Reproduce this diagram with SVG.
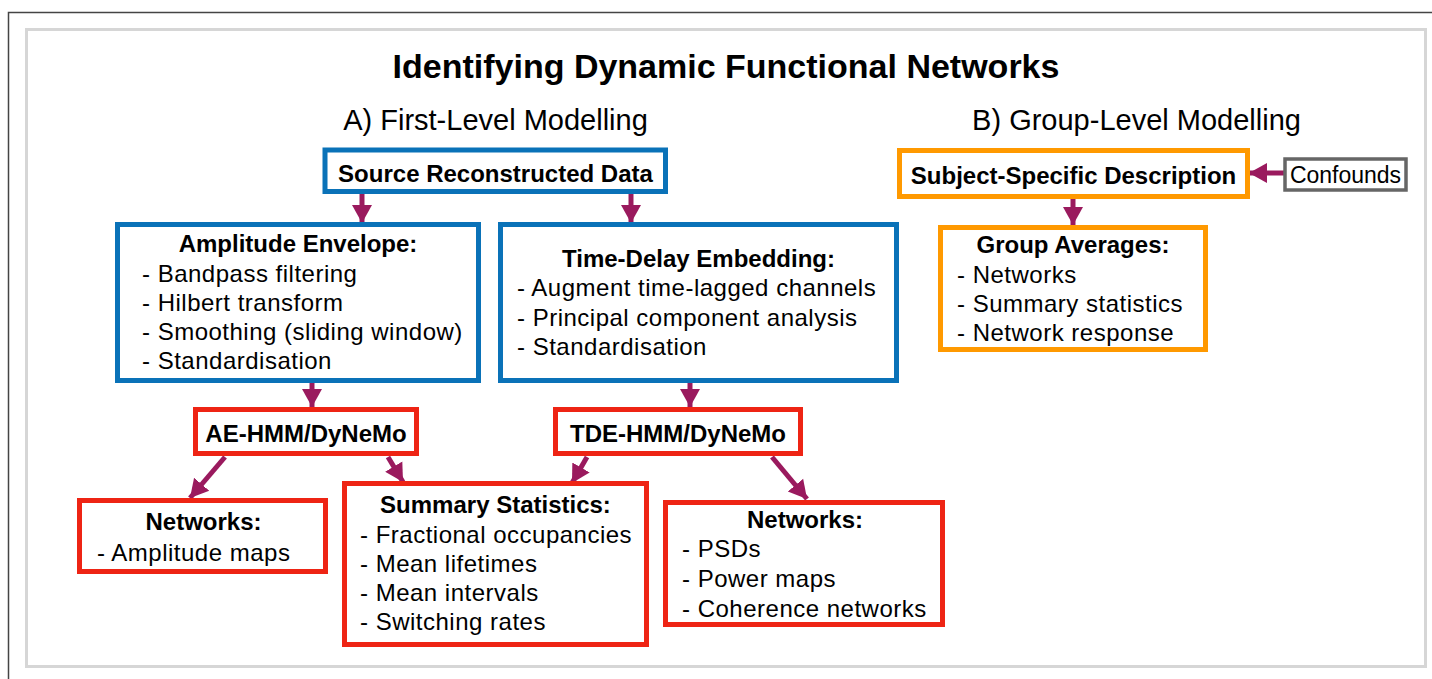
<svg xmlns="http://www.w3.org/2000/svg" width="1432" height="679" viewBox="0 0 1432 679">
<defs>
<style>
text{font-family:"Liberation Sans",Arial,Helvetica,sans-serif;fill:#000}
.b{font-weight:bold;font-size:24px}
.r{font-size:24px;letter-spacing:0.5px}
.c{text-anchor:middle}
.blue{fill:#fff;stroke:#0a72b8;stroke-width:5}
.red{fill:#fff;stroke:#ee2414;stroke-width:5}
.org{fill:#fff;stroke:#ff9900;stroke-width:5}
.gry{fill:#fff;stroke:#666;stroke-width:3.5}
.ar{stroke:#9a1a5e;stroke-width:5;fill:none;marker-end:url(#ah)}
</style>
<marker id="ah" markerUnits="userSpaceOnUse" markerWidth="20" markerHeight="22" refX="18" refY="10" orient="auto" viewBox="0 0 20 20">
<path d="M0,0 L18,10 L0,20 z" fill="#9a1a5e"/>
</marker>
</defs>
<rect width="1432" height="679" fill="#fff"/>
<rect x="8.5" y="12.5" width="1500" height="700" fill="none" stroke="#444" stroke-width="1.5"/>
<rect x="26.5" y="29.5" width="1399" height="637" fill="none" stroke="#d6d6d6" stroke-width="3"/>

<text x="726" y="78" class="c" style="font-weight:bold;font-size:34px">Identifying Dynamic Functional Networks</text>
<text x="495.5" y="130" class="c" style="font-size:29px">A) First-Level Modelling</text>
<text x="1136.5" y="130" class="c" style="font-size:29px">B) Group-Level Modelling</text>

<g id="connectors">
<path class="ar" d="M362,193 V223"/>
<path class="ar" d="M631,193 V223"/>
<path class="ar" d="M312,382 V407"/>
<path class="ar" d="M690,382 V407"/>
<path class="ar" d="M225,457 L190,498"/>
<path class="ar" d="M388,457 L403,482"/>
<path class="ar" d="M587,457 L572,483"/>
<path class="ar" d="M772,457 L807,499"/>
<path class="ar" d="M1073,199 V225"/>
<path class="ar" d="M1284,173 H1249"/>
</g>

<g id="source">
<rect class="blue" x="325" y="150" width="340.5" height="41.5"/>
<text x="495.5" y="182" class="b c">Source Reconstructed Data</text>
</g>

<g id="amplitude-envelope">
<rect class="blue" x="117.5" y="224.5" width="361" height="156"/>
<text x="298" y="252" class="b c">Amplitude Envelope:</text>
<text x="142" y="282" class="r">- Bandpass filtering</text>
<text x="142" y="311" class="r">- Hilbert transform</text>
<text x="142" y="340" class="r">- Smoothing (sliding window)</text>
<text x="142" y="369" class="r">- Standardisation</text>
</g>

<g id="time-delay-embedding">
<rect class="blue" x="500.5" y="224.5" width="396" height="156"/>
<text x="698.5" y="267" class="b c">Time-Delay Embedding:</text>
<text x="517" y="296" class="r">- Augment time-lagged channels</text>
<text x="517" y="326" class="r">- Principal component analysis</text>
<text x="517" y="355" class="r">- Standardisation</text>
</g>

<g id="ae-hmm">
<rect class="red" x="195.5" y="409.5" width="221" height="44"/>
<text x="306" y="442" class="b c">AE-HMM/DyNeMo</text>
</g>

<g id="tde-hmm">
<rect class="red" x="555.5" y="409.5" width="245" height="44"/>
<text x="678" y="442" class="b c">TDE-HMM/DyNeMo</text>
</g>

<g id="networks-ae">
<rect class="red" x="79.5" y="500.5" width="246" height="71"/>
<text x="203.5" y="530" class="b c">Networks:</text>
<text x="97" y="561" class="r">- Amplitude maps</text>
</g>

<g id="summary-statistics">
<rect class="red" x="344.5" y="483.5" width="302" height="161"/>
<text x="495.5" y="513" class="b c">Summary Statistics:</text>
<text x="360" y="543" class="r">- Fractional occupancies</text>
<text x="360" y="572" class="r">- Mean lifetimes</text>
<text x="360" y="601" class="r">- Mean intervals</text>
<text x="360" y="630" class="r">- Switching rates</text>
</g>

<g id="networks-tde">
<rect class="red" x="665.5" y="502.5" width="277" height="122"/>
<text x="805" y="528" class="b c">Networks:</text>
<text x="682" y="557" class="r">- PSDs</text>
<text x="682" y="587" class="r">- Power maps</text>
<text x="682" y="617" class="r">- Coherence networks</text>
</g>

<g id="subject-specific">
<rect class="org" x="899.5" y="150.5" width="348" height="46"/>
<text x="1073.5" y="184" class="b c">Subject-Specific Description</text>
</g>

<g id="confounds">
<rect class="gry" x="1285" y="159" width="121" height="31"/>
<text x="1345.5" y="183" class="c" style="font-size:23px">Confounds</text>
</g>

<g id="group-averages">
<rect class="org" x="940.5" y="227.5" width="265" height="122"/>
<text x="1073" y="253" class="b c">Group Averages:</text>
<text x="957" y="283" class="r">- Networks</text>
<text x="957" y="312" class="r">- Summary statistics</text>
<text x="957" y="341" class="r">- Network response</text>
</g>
</svg>
